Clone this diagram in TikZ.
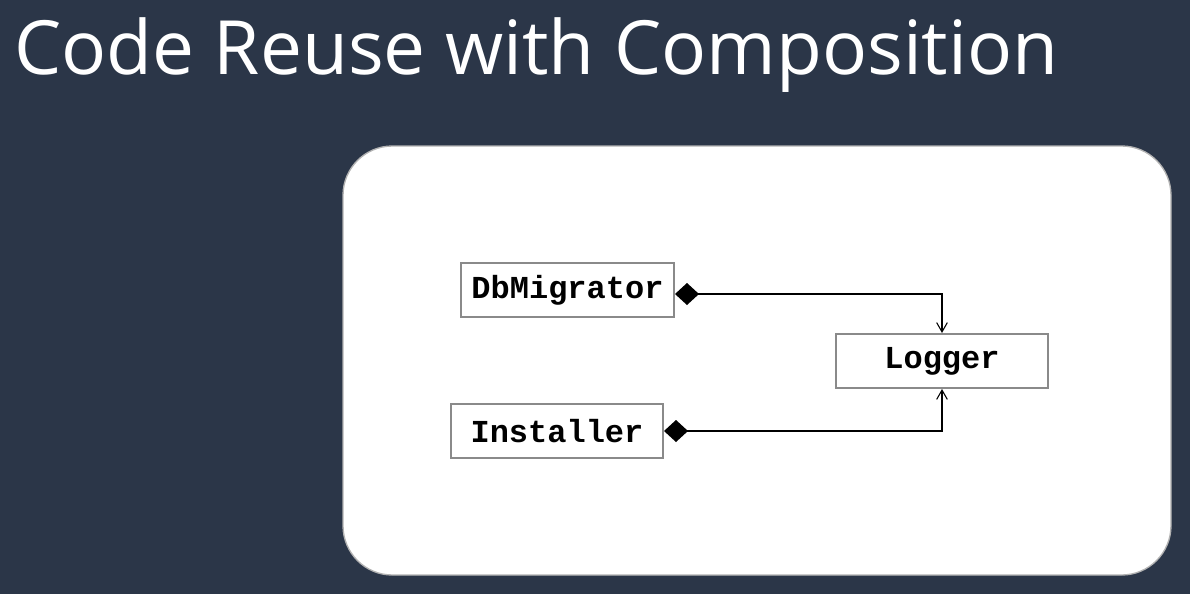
\documentclass[tikz,border=0pt]{standalone}
\usepackage{fontspec}
\setmainfont{Open Sans}
\newfontfamily\codefont{Liberation Mono}
\usetikzlibrary{arrows.meta}
\definecolor{bgcol}{HTML}{2B3648}
\definecolor{boxgray}{HTML}{8A8A8A}
\tikzset{
  cls/.style={draw=boxgray, line width=1.5pt, fill=white, minimum width=212*0.75pt, minimum height=54*0.75pt, inner sep=0pt, font=\codefont\bfseries\fontsize{24}{28}\selectfont},
  comp/.style={line width=1.1pt, {Diamond[length=18pt,width=16.5pt]}-{Straight Barb[length=7pt,width=8pt,line width=0.8pt]}}
}
\begin{document}
\begin{tikzpicture}[x=0.75pt,y=-0.75pt]
\useasboundingbox (0,0) rectangle (1190,594);
\fill[bgcol] (0,0) rectangle (1190,594);
\node[anchor=west, inner sep=0pt, text=white] (title) at (14,55) {\resizebox{783pt}{!}{Code Reuse with Composition}};
\node[draw=gray!60, line width=1pt, fill=white, rounded corners=37pt, minimum width=828*0.75pt, minimum height=429*0.75pt, inner sep=0pt] (panel) at (757,360.5) {};
\node[cls, minimum width=213*0.75pt] (db) at (567.5,290) {\raisebox{-2pt}{DbMigrator}};
\node[cls] (inst) at (557,431) {Installer};
\node[cls] (log) at (942,361) {\raisebox{-1.5pt}{Logger}};
\draw[comp] ([yshift=-3pt]db.east) -| (log.north);
\draw[comp] (inst.east) -| (log.south);
\end{tikzpicture}
\end{document}
